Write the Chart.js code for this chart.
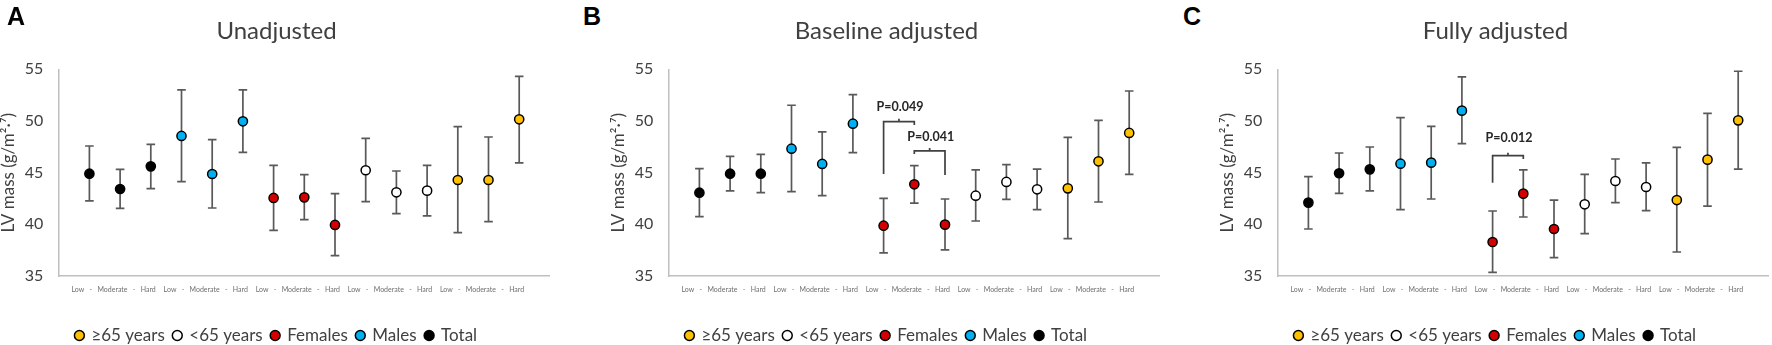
<!DOCTYPE html>
<html>
<head>
<meta charset="utf-8">
<script src="https://cdn.jsdelivr.net/npm/chart.js@4.4.1/dist/chart.umd.min.js"></script>
<style>
  html, body { margin: 0; padding: 0; background: #fff; overflow: hidden; }
  body { width: 1772px; height: 345px; position: relative; }
  .panel { position: absolute; top: 0; width: 556px; height: 354px; }
  .panel canvas { display: block; }
  .letter { position: absolute; top: 4px; font: bold 25px "Liberation Sans", Arial, sans-serif; line-height: 1; color: #000; }
</style>
</head>
<body>
<div class="panel" style="left:0px"><canvas id="chartA" width="556" height="354"></canvas></div>
<div class="panel" style="left:610px"><canvas id="chartB" width="556" height="354"></canvas></div>
<div class="panel" style="left:1219px"><canvas id="chartC" width="556" height="354"></canvas></div>
<div class="letter" style="left:7px">A</div>
<div class="letter" style="left:583px">B</div>
<div class="letter" style="left:1183px">C</div>
<script>
// groups, in the order they sit along the x axis (3 levels each)
const groups = ['Total', 'Males', 'Females', '<65 years', '≥65 years'];
const groupColors = ['#000000', '#00b0f0', '#d40000', '#ffffff', '#ffc000'];
const levels = ['Low', 'Moderate', 'Hard'];
const groupTickLabel = 'Low\u2002 - \u2002Moderate\u2002 - \u2002Hard';
const groupTickPos = [0.79, 3.79, 6.79, 9.79, 12.79];
const yTickStep = 5;
const yAxisLabel = 'LV mass (g/m\u00B2\u00B7\u2077)';

// A: unadjusted
const unadjMean = [44.90, 43.42, 45.61, 48.55, 44.87, 49.97, 42.55, 42.61, 39.94, 45.23, 43.10, 43.26, 44.29, 44.29, 50.16];
const unadjLow  = [42.26, 41.55, 43.45, 44.13, 41.58, 46.97, 39.42, 40.45, 36.97, 42.19, 41.03, 40.81, 39.19, 40.26, 45.94];
const unadjHigh = [47.58, 45.32, 47.74, 53.00, 48.19, 53.00, 45.71, 44.81, 42.97, 48.32, 45.16, 45.71, 49.45, 48.45, 54.32];

// B: baseline adjusted
const baseMean = [43.06, 44.90, 44.90, 47.32, 45.84, 49.74, 39.87, 43.87, 39.97, 42.77, 44.10, 43.39, 43.48, 46.10, 48.84];
const baseLow  = [40.74, 43.23, 43.06, 43.16, 42.77, 46.94, 37.23, 42.06, 37.52, 40.32, 42.42, 41.42, 38.61, 42.16, 44.84];
const baseHigh = [45.39, 46.58, 46.77, 51.52, 48.94, 52.55, 42.52, 45.68, 42.45, 45.26, 45.77, 45.35, 48.42, 50.06, 52.90];

// C: fully adjusted
const fullMean = [42.10, 44.94, 45.32, 45.87, 45.97, 51.00, 38.29, 42.97, 39.55, 41.94, 44.19, 43.61, 42.35, 46.26, 50.06];
const fullLow  = [39.55, 43.00, 43.23, 41.42, 42.45, 47.81, 35.35, 40.71, 36.77, 39.10, 42.10, 41.32, 37.32, 41.77, 45.35];
const fullHigh = [44.61, 46.90, 47.48, 50.32, 49.48, 54.26, 41.29, 45.26, 42.35, 44.84, 46.32, 45.94, 47.45, 50.74, 54.81];

// p-value brackets (x = point index, y = LV mass)
const baseBracketFrom = [6, 7];
const baseBracketTo = [7, 8];
const baseBracketTop = [49.93, 47.10];
const baseBracketLeftEnd = [44.87, 46.80];
const baseBracketRightEnd = [49.60, 44.77];
const baseBracketText = ['P=0.049', 'P=0.041'];
const baseBracketTextY = [51.38, 48.48];

const fullBracketFrom = [6];
const fullBracketTo = [7];
const fullBracketTop = [46.64];
const fullBracketLeftEnd = [44.03];
const fullBracketRightEnd = [46.32];
const fullBracketText = ['P=0.012'];
const fullBracketTextY = [48.32];

const FONT = 'Lato, "Open Sans", sans-serif';

function makeDatasets(mean, low, high) {
  return groups.map((g, gi) => {
    const idx = levels.map((l, k) => gi * 3 + k);
    return {
      label: g,
      data: idx.map(i => ({ x: i, y: mean[i] })),
      errLow: idx.map(i => low[i]),
      errHigh: idx.map(i => high[i]),
      backgroundColor: groupColors[gi],
      borderColor: '#000',
      borderWidth: 1.5,
      pointRadius: 4.6,
      pointHoverRadius: 4.6
    };
  });
}

function makeBrackets(from, to, top, leftEnd, rightEnd, text, textY) {
  return from.map((f, i) => ({
    from: f, to: to[i], top: top[i], leftEnd: leftEnd[i], rightEnd: rightEnd[i], text: text[i], textY: textY[i]
  }));
}

const errorBars = {
  id: 'errorBars',
  beforeDatasetsDraw(chart) {
    const { ctx, scales: { x, y } } = chart;
    ctx.save();
    ctx.strokeStyle = '#595959';
    ctx.lineWidth = 1.7;
    chart.data.datasets.forEach(ds => {
      ds.data.forEach((p, i) => {
        const px = x.getPixelForValue(p.x);
        const top = y.getPixelForValue(ds.errHigh[i]);
        const bot = y.getPixelForValue(ds.errLow[i]);
        ctx.beginPath();
        ctx.moveTo(px, top); ctx.lineTo(px, bot);
        ctx.moveTo(px - 4.3, top); ctx.lineTo(px + 4.3, top);
        ctx.moveTo(px - 4.3, bot); ctx.lineTo(px + 4.3, bot);
        ctx.stroke();
      });
    });
    ctx.restore();
  }
};

const pBrackets = {
  id: 'pBrackets',
  afterDatasetsDraw(chart, args, opts) {
    if (!opts.items) return;
    const { ctx, scales: { x, y } } = chart;
    ctx.save();
    ctx.strokeStyle = '#404040';
    ctx.lineWidth = 1.7;
    ctx.fillStyle = '#262626';
    ctx.font = 'bold 12.5px ' + FONT;
    ctx.textAlign = 'center';
    ctx.textBaseline = 'middle';
    opts.items.forEach(b => {
      const x1 = x.getPixelForValue(b.from);
      const x2 = x.getPixelForValue(b.to);
      const yt = y.getPixelForValue(b.top);
      const xm = (x1 + x2) / 2;
      ctx.beginPath();
      ctx.moveTo(x1, y.getPixelForValue(b.leftEnd));
      ctx.lineTo(x1, yt);
      ctx.lineTo(x2, yt);
      ctx.lineTo(x2, y.getPixelForValue(b.rightEnd));
      ctx.moveTo(xm, yt);
      ctx.lineTo(xm, yt - 3);
      ctx.stroke();
      ctx.fillText(b.text, xm + 1, y.getPixelForValue(b.textY));
    });
    ctx.restore();
  }
};

function makeChart(id, title, mean, low, high, brackets) {
  new Chart(document.getElementById(id), {
    type: 'scatter',
    data: { datasets: makeDatasets(mean, low, high) },
    plugins: [errorBars, pBrackets],
    options: {
      responsive: false,
      animation: false,
      events: [],
      layout: { padding: { left: 0, right: 3, top: 0, bottom: 0 } },
      plugins: {
        tooltip: { enabled: false },
        title: {
          display: true,
          text: title,
          color: '#404040',
          font: { family: FONT, size: 24, weight: 'normal' },
          padding: { top: 16.6, bottom: 23.9 }
        },
        legend: {
          position: 'bottom',
          reverse: true,
          labels: {
            usePointStyle: true,
            pointStyle: 'circle',
            boxWidth: 7,
            boxHeight: 7,
            padding: 9,
            color: '#404040',
            font: { family: FONT, size: 17 }
          }
        },
        pBrackets: { items: brackets }
      },
      scales: {
        x: {
          type: 'linear',
          min: -1,
          max: 15,
          grid: { display: false, drawTicks: false },
          border: { color: '#bfbfbf', width: 1.5 },
          afterBuildTicks: s => { s.ticks = groupTickPos.map(v => ({ value: v })); },
          afterFit: s => { s.height = 42; },
          ticks: {
            autoSkip: false,
            maxRotation: 0,
            padding: 10,
            color: '#6f6f6f',
            font: { family: FONT, size: 7 },
            callback: () => groupTickLabel
          }
        },
        y: {
          min: 35,
          max: 55,
          grid: { display: false, drawTicks: false },
          border: { color: '#bfbfbf', width: 1.5 },
          afterFit: s => { s.width = 58.7; },
          ticks: {
            stepSize: yTickStep,
            padding: 15.5,
            color: '#404040',
            font: { family: FONT, size: 16 }
          },
          title: {
            display: true,
            text: yAxisLabel,
            color: '#404040',
            padding: { top: 0, bottom: 0 },
            font: { family: FONT, size: 17, lineHeight: 1.06 }
          }
        }
      }
    }
  });
}

makeChart('chartA', 'Unadjusted', unadjMean, unadjLow, unadjHigh, []);
makeChart('chartB', 'Baseline adjusted', baseMean, baseLow, baseHigh,
  makeBrackets(baseBracketFrom, baseBracketTo, baseBracketTop, baseBracketLeftEnd, baseBracketRightEnd, baseBracketText, baseBracketTextY));
makeChart('chartC', 'Fully adjusted', fullMean, fullLow, fullHigh,
  makeBrackets(fullBracketFrom, fullBracketTo, fullBracketTop, fullBracketLeftEnd, fullBracketRightEnd, fullBracketText, fullBracketTextY));
</script>
</body>
</html>
